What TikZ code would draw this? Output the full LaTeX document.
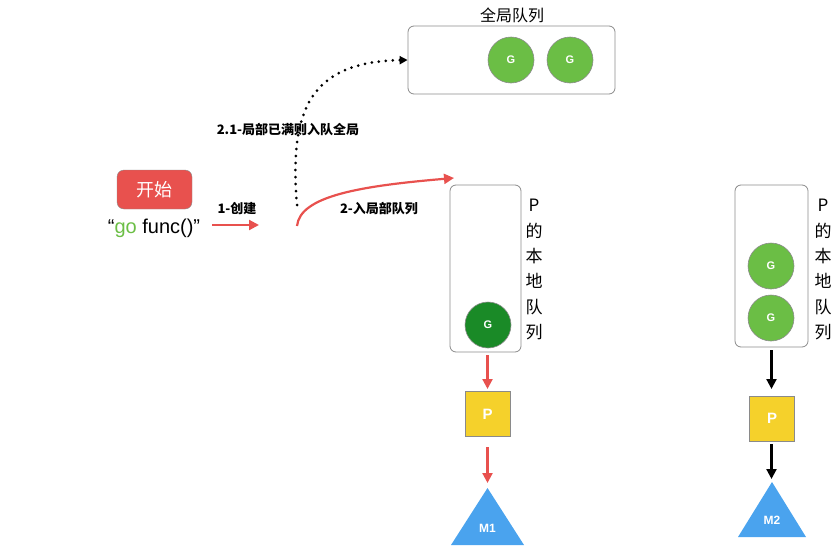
\documentclass[tikz,border=0pt]{standalone}
\usepackage{fontspec}
\setmainfont{Liberation Sans}
\newfontfamily\cjk{Noto Sans CJK SC}
\usetikzlibrary{arrows.meta}
\definecolor{redc}{HTML}{E8514E}
\definecolor{lgreen}{HTML}{6BBE45}
\definecolor{dgreen}{HTML}{1A8A27}
\definecolor{yel}{HTML}{F5D12B}
\definecolor{blu}{HTML}{4AA3EE}
\definecolor{bord}{HTML}{8A8A8A}
\begin{document}
\begin{tikzpicture}[x=1pt,y=-1pt,
  qbox/.style={draw=bord,line width=0.8pt,rounded corners=6pt},
  gnode/.style={circle,draw=bord,line width=0.6pt,minimum size=46pt,inner sep=0pt,font=\bfseries\fontsize{11}{11}\selectfont,text=white},
  pnode/.style={draw=bord,line width=0.6pt,fill=yel,minimum size=45pt,inner sep=0pt,font=\bfseries\fontsize{15}{15}\selectfont,text=white},
  mtxt/.style={font=\bfseries\fontsize{12}{12}\selectfont,text=white},
  lbl/.style={font=\cjk\bfseries\fontsize{13}{13}\selectfont},
  vtxt/.style={font=\cjk\fontsize{17}{17}\selectfont,inner sep=0pt},
  redarr/.style={draw=redc,line width=2.2pt,-{Triangle[length=10pt,width=10pt]}},
  blkarr/.style={draw=black,line width=2.2pt,-{Triangle[length=10pt,width=10pt]}}
]
\useasboundingbox (0,0) rectangle (837,554);
% global queue
\node[qbox,minimum width=207pt,minimum height=68pt] (gq) at (511.5,60) {};
\node[font=\cjk\fontsize{16}{16}\selectfont] (gqt) at (512,15) {全局队列};
\node[gnode,fill=lgreen] (g1) at (511,60) {G};
\node[gnode,fill=lgreen] (g2) at (570,60) {G};
% start
\node[fill=redc,draw=bord,line width=0.4pt,rounded corners=7pt,minimum width=75pt,minimum height=39pt,text=white,font=\cjk\fontsize{18}{18}\selectfont] (start) at (154.5,189.5) {开始};
\node[font=\fontsize{20}{20}\selectfont,inner sep=0pt] (gof) at (154,228) {“\textcolor{lgreen}{go} func()”};
% arrow 1
\coordinate (a1s) at (212,225);
\coordinate (a1e) at (259,225);
\draw[redarr] (a1s) -- (a1e);
\node[lbl] (l1) at (237,209) {1-创建};
% curved arrow 2
\coordinate (a2s) at (297,226);
\coordinate (a2e) at (454,178);
\draw[redarr] (a2s) .. controls (300,196) and (360,186) .. (a2e);
\node[lbl] (l2) at (379,209) {2-入局部队列};
% dotted arrow
\coordinate (dts) at (297,205);
\draw[line width=3pt,line cap=round,dash pattern=on 0pt off 7pt,-{Triangle[length=8pt,width=8pt]}] (dts) .. controls (289,110) and (310,62) .. (gq.west);
\node[lbl] (l21) at (288,130) {2.1-局部已满则入队全局};
% local queue 1
\node[qbox,minimum width=71pt,minimum height=167pt] (lq1) at (485.5,268.5) {};
\node[gnode,fill=dgreen] (g3) at (488,325) {G};
\foreach \c [count=\i from 0] in {P,的,本,地,队,列}{
  \node[vtxt] (va\i) at (534,205+25.4*\i) {\c};
  \node[vtxt] (vb\i) at (823,205+25.4*\i) {\c};
}
\node[pnode] (p1) at (487.5,414) {P};
\coordinate (m1a) at (487.5,488);
\fill[blu] (m1a) -- (524,545) -- (451,545) -- cycle;
\node[mtxt] (m1t) at (487.5,528) {M1};
\coordinate (r1s) at (487.5,355);
\coordinate (r1e) at (487.5,389);
\draw[redarr] (r1s) -- (r1e);
\coordinate (r2s) at (487.5,447);
\coordinate (r2e) at (487.5,483);
\draw[redarr] (r2s) -- (r2e);
% local queue 2
\node[qbox,minimum width=73pt,minimum height=162pt] (lq2) at (771.5,266) {};
\node[gnode,fill=lgreen] (g4) at (771,266) {G};
\node[gnode,fill=lgreen] (g5) at (771,318) {G};
\node[pnode] (p2) at (772,418.5) {P};
\coordinate (m2a) at (772,482);
\fill[blu] (m2a) -- (806,537) -- (738,537) -- cycle;
\node[mtxt] (m2t) at (772,520) {M2};
\coordinate (b1s) at (771.5,350);
\coordinate (b1e) at (771.5,389);
\draw[blkarr] (b1s) -- (b1e);
\coordinate (b2s) at (771.5,444);
\coordinate (b2e) at (771.5,479);
\draw[blkarr] (b2s) -- (b2e);
\end{tikzpicture}
\end{document}
